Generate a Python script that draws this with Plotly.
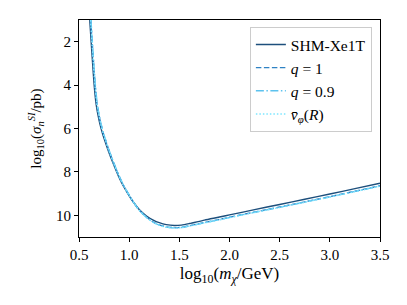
import plotly.graph_objects as go

# log10(m_chi/GeV) and log10(sigma/pb) per series
x_shm = [0.607, 0.624, 0.640, 0.655, 0.670, 0.690, 0.710, 0.735, 0.760, 0.800, 0.843, 0.890, 0.943, 1.000, 1.043, 1.100, 1.173, 1.240, 1.300, 1.370, 1.450, 1.520, 1.600, 1.750, 1.900, 2.000, 2.250, 2.500, 2.750, 3.000, 3.250, 3.500]
y_shm = [1.00, 2.20, 3.30, 4.20, 4.85, 5.40, 5.82, 6.24, 6.60, 7.13, 7.64, 8.16, 8.66, 9.10, 9.40, 9.73, 10.03, 10.22, 10.34, 10.43, 10.47, 10.45, 10.38, 10.22, 10.08, 9.98, 9.74, 9.50, 9.26, 9.02, 8.77, 8.52]

x_q1 = [0.617, 0.634, 0.650, 0.665, 0.680, 0.700, 0.720, 0.744, 0.769, 0.808, 0.850, 0.896, 0.948, 1.004, 1.046, 1.102, 1.174, 1.240, 1.300, 1.370, 1.450, 1.520, 1.600, 1.750, 1.900, 2.000, 2.250, 2.500, 2.750, 3.000, 3.250, 3.500]
y_q1 = [1.00, 2.20, 3.30, 4.20, 4.85, 5.40, 5.82, 6.24, 6.60, 7.13, 7.64, 8.16, 8.66, 9.10, 9.42, 9.77, 10.09, 10.31, 10.44, 10.53, 10.57, 10.55, 10.48, 10.33, 10.19, 10.09, 9.85, 9.62, 9.38, 9.14, 8.89, 8.64]

x_q09 = [0.619, 0.636, 0.652, 0.667, 0.682, 0.702, 0.722, 0.746, 0.771, 0.810, 0.852, 0.898, 0.950, 1.005, 1.047, 1.103, 1.175, 1.240, 1.300, 1.370, 1.450, 1.520, 1.600, 1.750, 1.900, 2.000, 2.250, 2.500, 2.750, 3.000, 3.250, 3.500]
y_q09 = [1.00, 2.20, 3.30, 4.20, 4.85, 5.40, 5.82, 6.24, 6.60, 7.13, 7.64, 8.16, 8.66, 9.10, 9.42, 9.78, 10.10, 10.32, 10.45, 10.54, 10.58, 10.56, 10.49, 10.34, 10.20, 10.10, 9.86, 9.63, 9.39, 9.15, 8.90, 8.65]

x_vphi = [0.615, 0.632, 0.648, 0.663, 0.678, 0.698, 0.718, 0.742, 0.767, 0.806, 0.848, 0.894, 0.946, 1.003, 1.045, 1.102, 1.174, 1.240, 1.300, 1.370, 1.450, 1.520, 1.600, 1.750, 1.900, 2.000, 2.250, 2.500, 2.750, 3.000, 3.250, 3.500]
y_vphi = [1.00, 2.20, 3.30, 4.20, 4.85, 5.40, 5.82, 6.24, 6.60, 7.13, 7.64, 8.16, 8.66, 9.10, 9.42, 9.78, 10.11, 10.33, 10.46, 10.55, 10.59, 10.57, 10.50, 10.35, 10.21, 10.11, 9.87, 9.64, 9.40, 9.16, 8.91, 8.66]

x_ticks = [0.5, 1.0, 1.5, 2.0, 2.5, 3.0, 3.5]
y_ticks = [2, 4, 6, 8, 10]

FONT = "Liberation Serif"

fig = go.Figure()
fig.add_trace(go.Scatter(x=x_shm, y=y_shm, mode="lines", name="SHM-Xe1T",
                         line=dict(color="#1d4f7c", width=1.4, shape="spline", smoothing=0.8)))
fig.add_trace(go.Scatter(x=x_q1, y=y_q1, mode="lines", name="<i>q</i> = 1",
                         line=dict(color="#2f82c4", width=1.4, dash="5.5px,2.5px", shape="spline", smoothing=0.8)))
fig.add_trace(go.Scatter(x=x_q09, y=y_q09, mode="lines", name="<i>q</i> = 0.9",
                         line=dict(color="#5cc2ee", width=1.4, dash="8px,2.5px,1.5px,2.5px", shape="spline", smoothing=0.8)))
fig.add_trace(go.Scatter(x=x_vphi, y=y_vphi, mode="lines", name="<i>v̄</i><sub><i>φ</i></sub>(<i>R</i>)",
                         line=dict(color="#7ce6ff", width=1.4, dash="1.5px,2px", shape="spline", smoothing=0.8)))

fig.update_layout(
    width=407, height=305,
    margin=dict(l=79, r=27, t=20, b=68),
    paper_bgcolor="white", plot_bgcolor="white",
    font=dict(family=FONT, size=15, color="black"),
    showlegend=True,
    legend=dict(x=0.973, y=0.968, xanchor="right", yanchor="top",
                bgcolor="white", bordercolor="#cccccc", borderwidth=1,
                font=dict(family=FONT, size=15.5), tracegroupgap=0, itemwidth=30),
    xaxis=dict(range=[0.5, 3.5], tickvals=x_ticks, ticktext=[f"{v:.1f}" for v in x_ticks],
               showgrid=False, zeroline=False, showline=True, linecolor="black", linewidth=1,
               mirror=True, ticks="outside", ticklen=4, tickcolor="black",
               tickfont=dict(family=FONT, size=15),
               title=dict(text="log<sub>10</sub>(<i>m</i><sub><i>χ</i></sub>/GeV)", standoff=5,
                          font=dict(family=FONT, size=17))),
    yaxis=dict(range=[11, 1], tickvals=y_ticks, ticktext=[str(v) for v in y_ticks],
               showgrid=False, zeroline=False, showline=True, linecolor="black", linewidth=1,
               mirror=True, ticks="outside", ticklen=4, tickcolor="black",
               tickfont=dict(family=FONT, size=15),
               title=dict(text="log<sub>10</sub>(<i>σ</i><sub><i>n</i></sub><sup><i>SI</i></sup>/pb)", standoff=10,
                          font=dict(family=FONT, size=15))),
)

fig.write_html("out.html", config={"displayModeBar": False},
               post_script="document.body.style.margin='0';")
